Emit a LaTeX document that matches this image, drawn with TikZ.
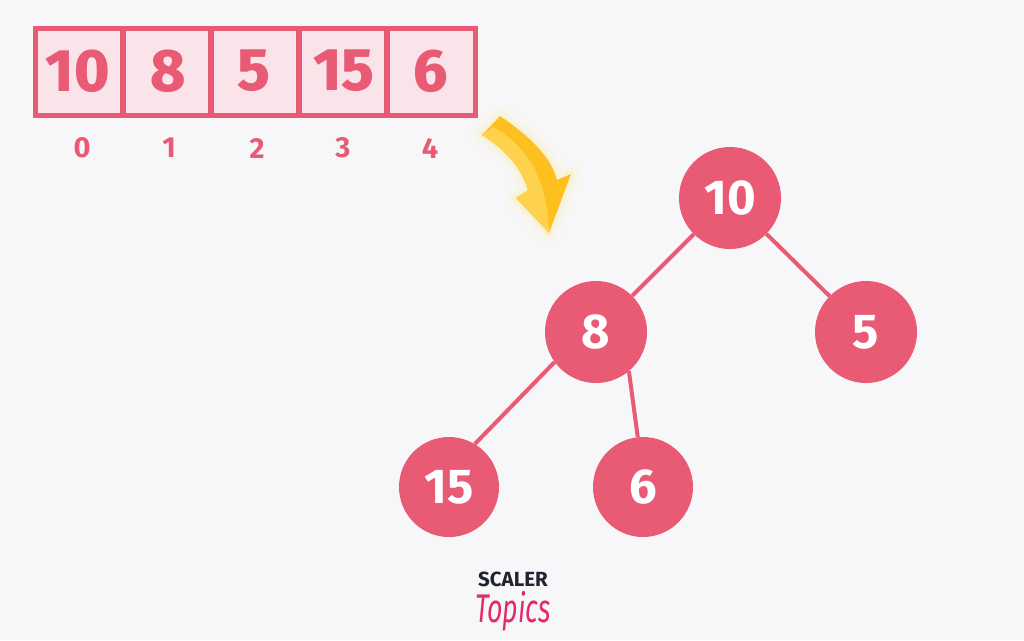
\documentclass[tikz,border=0pt]{standalone}
\usepackage{fontspec}
\setmainfont{Fira Sans}
\newfontfamily\heavyfont{Fira Sans ExtraBold}
\definecolor{bgcol}{HTML}{F7F7F9}
\definecolor{rosecol}{HTML}{E95A75}
\definecolor{cellcol}{HTML}{FAE3E9}
\definecolor{arrowcol}{HTML}{FDC020}
\definecolor{arrowlight}{HTML}{FFD24D}
\definecolor{inkcol}{HTML}{1F2430}
\definecolor{scriptcol}{HTML}{E4296B}
\tikzset{
  cell/.style={draw=rosecol,line width=5.5pt,fill=cellcol,minimum height=87pt,inner sep=0pt},
  cellnum/.style={text=rosecol,font=\fontsize{60}{60}\heavyfont,inner sep=0pt},
  idx/.style={text=rosecol,font=\fontsize{29}{29}\selectfont\bfseries,inner sep=0pt},
  vertex/.style={circle,fill=rosecol,text=white,minimum size=#1,inner sep=0pt,font=\fontsize{49}{49}\selectfont\bfseries},
  branch/.style={draw=rosecol,line width=4pt}
}
\begin{document}
\begin{tikzpicture}[x=1pt,y=-1pt]
\useasboundingbox (0,0) rectangle (1024,640);
\fill[bgcol] (0,0) rectangle (1024,640);

% array
\foreach \name/\xa/\w in {c0/79.25/87.5,c1/167/88,c2/255/88,c3/343/88,c4/431.25/88.5}
  \node[cell,minimum width=\w pt] (\name) at (\xa,72) {};
\foreach \name/\xa/\val in {n0/78/10,n1/168/8,n2/254/5,n3/344/15,n4/431/6}
  \node[cellnum] (\name) at (\xa,71) {\val};
\foreach \name/\xa/\val in {i0/82/0,i1/169/1,i2/257/2,i3/343/3,i4/430/4}
  \node[idx] (\name) at (\xa,148) {\val};

% arrow
\foreach \wd/\op in {22/0.03,14/0.04,7/0.06}
  \draw[yellow!80!orange,line width=\wd pt,opacity=\op,line join=round]
    (500,116) .. controls (535,140) and (552,160) .. (557,180) -- (571,174) -- (549,233) -- (516,198) -- (528,190) .. controls (520,165) and (505,150) .. (482,135) -- cycle;
\fill[arrowcol] (500,116) .. controls (535,140) and (552,160) .. (557,180) -- (571,174) -- (549,233) -- (516,198) -- (528,190) .. controls (520,165) and (505,150) .. (482,135) -- cycle;
\fill[arrowlight] (482,135) -- (493,127) .. controls (525,145) and (547,175) .. (549,233) -- (516,198) -- (528,190) .. controls (520,165) and (505,150) .. (482,135) -- cycle;

% tree
\node[vertex=102pt] (v10) at (730,198) {10};
\node[vertex=102pt] (v8) at (596,332) {8};
\node[vertex=102pt] (v5) at (866,332) {5};
\node[vertex=100pt] (v15) at (449,487) {15};
\node[vertex=100pt] (v6) at (643,487) {6};
\draw[branch] (v10) -- (v8);
\draw[branch] (v10) -- (v5);
\draw[branch] (v8.216) -- (v15.59);
\draw[branch] (v8.-50) -- (v6.96);

% logo
\node[text=inkcol,font=\fontsize{20.5}{20.5}\selectfont\bfseries,inner sep=0pt] (scaler) at (513,579) {SCALER};
\node[text=scriptcol,font=\fontsize{40}{40}\selectfont\itshape,inner sep=0pt,xscale=0.67,anchor=base] (topics) at (513,622) {Topics};
\end{tikzpicture}
\end{document}
